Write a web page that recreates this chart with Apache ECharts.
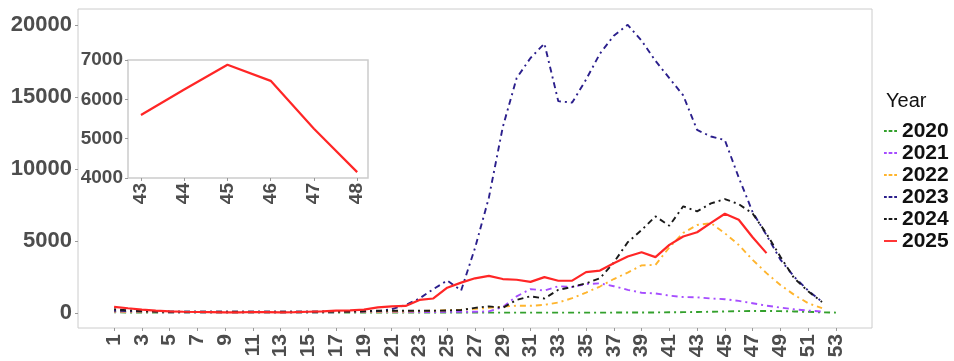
<!DOCTYPE html>
<html>
<head>
<meta charset="utf-8">
<script src="https://cdn.jsdelivr.net/npm/echarts@6/dist/echarts.min.js"></script>
<style>
  html, body { margin: 0; padding: 0; background: #fff; }
  #chart { width: 954px; height: 361px; }
</style>
</head>
<body>
<div id="chart"></div>
<script>
// Weekly case counts per year, epidemiological weeks 1-53
const weeks = Array.from({ length: 53 }, (_, i) => i + 1);

const y2020 = [40,30,30,20,20,20,20,20,20,20,20,20,20,20,20,20,20,20,20,20,20,20,20,20,20,20,20,20,20,20,20,20,20,20,20,20,20,30,30,30,40,50,60,80,100,120,130,130,120,100,70,40,20];
const y2021 = [80,60,50,50,40,40,40,40,40,40,40,40,40,40,40,40,50,50,50,50,50,60,60,60,70,70,80,100,400,1150,1650,1550,1850,1800,2000,2050,1850,1600,1400,1350,1200,1100,1080,1000,950,830,670,500,370,250,160,90,null];
const y2022 = [100,80,60,50,50,50,50,50,50,50,50,50,50,50,60,60,60,70,70,80,100,100,120,150,180,220,280,350,430,500,490,560,720,1020,1410,1830,2350,2800,3300,3330,4550,5550,6100,6230,5530,4720,3680,2760,1940,1250,670,330,null];
const y2023 = [150,120,100,90,80,80,80,80,80,80,80,80,80,80,80,90,90,100,100,120,250,550,1000,1650,2250,1550,4500,8000,12900,16300,17700,18700,14700,14600,16200,18000,19250,20000,18900,17500,16300,15100,12700,12250,12000,9400,7000,5400,3700,2500,1550,780,null];
const y2024 = [250,180,120,100,90,80,80,80,80,80,80,80,80,80,90,90,100,100,120,150,150,150,150,150,170,200,350,450,350,900,1150,1000,1600,1800,2050,2400,3500,4900,5750,6700,6050,7400,7050,7600,7900,7550,6900,5500,3900,2400,1500,750,null];
const y2025 = [420,320,230,160,110,80,60,50,40,40,60,50,40,50,80,110,150,180,230,380,450,480,900,1000,1750,2100,2400,2570,2350,2300,2150,2480,2230,2240,2830,2940,3450,3910,4210,3870,4720,5300,5600,6250,6880,6470,5250,4150,null,null,null,null,null];

const years = ['2020', '2021', '2022', '2023', '2024', '2025'];
const yearValues = [y2020, y2021, y2022, y2023, y2024, y2025];
const yearColors = ['#33a02c', '#a64dff', '#ffb52e', '#2b1f8c', '#1a1a1a', '#ff2626'];

// Main axis tick labels
const xTicks = weeks.filter(w => w % 2 === 1);
const yTicks = [0, 5000, 10000, 15000, 20000];

// Inset: late-season weeks of the current year
const insetWeeks = [43, 44, 45, 46, 47, 48];
const insetTicksY = [4000, 5000, 6000, 7000];

const FONT = '"Liberation Sans", Arial, sans-serif';
const AXIS_GREY = '#4d4d4d';
const BORDER = '#cccccc';
const dotDash = [2, 4, 6, 4];

// Legend keys: short dot-dash or solid strokes
const KEY_DOTDASH = 'path://M0,0h3v2h-3z M5,0h4v2h-4z M11,0h3v2h-3z';
const KEY_SOLID = 'path://M0,0h14v2h-14z';

const plain = v => String(v);
const toPairs = vals => weeks.map((w, i) => [w, vals[i]]).filter(p => p[1] !== null);

const series = years.map((name, k) => ({
  name,
  type: 'line',
  xAxisIndex: 0,
  yAxisIndex: 0,
  data: toPairs(yearValues[k]),
  showSymbol: false,
  symbol: 'none',
  color: yearColors[k],
  lineStyle: name === '2025'
    ? { color: yearColors[k], width: 2.2, type: 'solid' }
    : { color: yearColors[k], width: 1.9, type: dotDash },
  z: name === '2025' ? 10 : 5,
  silent: true
}));

series.push({
  name: '2025 detail',
  type: 'line',
  xAxisIndex: 1,
  yAxisIndex: 1,
  data: insetWeeks.map(w => [w, y2025[w - 1]]),
  showSymbol: false,
  symbol: 'none',
  color: yearColors[5],
  lineStyle: { color: yearColors[5], width: 2.2 },
  z: 20,
  silent: true
});

const chart = echarts.init(document.getElementById('chart'), null, { renderer: 'canvas' });

chart.setOption({
  animation: false,
  backgroundColor: '#ffffff',
  textStyle: { fontFamily: FONT },
  grid: [
    { left: 78, top: 9, width: 794, height: 319, show: true, borderColor: BORDER, borderWidth: 1, backgroundColor: '#fff', z: 0 },
    { left: 128, top: 60, width: 240, height: 118, show: true, borderColor: BORDER, borderWidth: 1.5, backgroundColor: '#fff', z: 15 }
  ],
  xAxis: [
    {
      type: 'value', gridIndex: 0, min: -1.6, max: 55.6, position: 'bottom',
      axisLine: { show: false, onZero: false },
      splitLine: { show: false },
      axisTick: { show: true, customValues: xTicks, length: 3, lineStyle: { color: '#999' } },
      axisLabel: {
        customValues: xTicks, rotate: 90, margin: 6, formatter: plain,
        color: AXIS_GREY, fontSize: 21, fontWeight: 'bold', fontFamily: FONT
      }
    },
    {
      type: 'value', gridIndex: 1, min: 42.7, max: 48.25, z: 16, position: 'bottom',
      axisLine: { show: false, onZero: false },
      splitLine: { show: false },
      axisTick: { show: true, customValues: insetWeeks, length: 3, lineStyle: { color: '#999' } },
      axisLabel: {
        customValues: insetWeeks, rotate: 90, margin: 5, formatter: plain,
        color: AXIS_GREY, fontSize: 19, fontWeight: 'bold', fontFamily: FONT
      }
    }
  ],
  yAxis: [
    {
      type: 'value', gridIndex: 0, min: -1050, max: 21100, position: 'left',
      axisLine: { show: false, onZero: false },
      splitLine: { show: false },
      axisTick: { show: true, customValues: yTicks, length: 3, lineStyle: { color: '#999' } },
      axisLabel: {
        customValues: yTicks, margin: 6, formatter: plain,
        color: AXIS_GREY, fontSize: 22, fontWeight: 'bold', fontFamily: FONT
      }
    },
    {
      type: 'value', gridIndex: 1, min: 4000, max: 7000, z: 16, position: 'left',
      axisLine: { show: false, onZero: false },
      splitLine: { show: false },
      axisTick: { show: true, customValues: insetTicksY, length: 3, lineStyle: { color: '#999' } },
      axisLabel: {
        customValues: insetTicksY, margin: 5, formatter: plain,
        color: AXIS_GREY, fontSize: 19, fontWeight: 'bold', fontFamily: FONT
      }
    }
  ],
  legend: {
    data: years.map(name => ({ name, icon: name === '2025' ? KEY_SOLID : KEY_DOTDASH })),
    orient: 'vertical',
    left: 884,
    top: 120,
    padding: 0,
    itemWidth: 13,
    itemHeight: 2,
    itemGap: 0,
    selectedMode: false,
    textStyle: { fontSize: 21, fontWeight: 'bold', color: '#111', fontFamily: FONT, lineHeight: 22 }
  },
  graphic: [
    {
      type: 'text', left: 886, top: 91,
      style: { text: 'Year', fontSize: 20, fontFamily: FONT, fill: '#111' }
    }
  ],
  series
});
</script>
</body>
</html>
